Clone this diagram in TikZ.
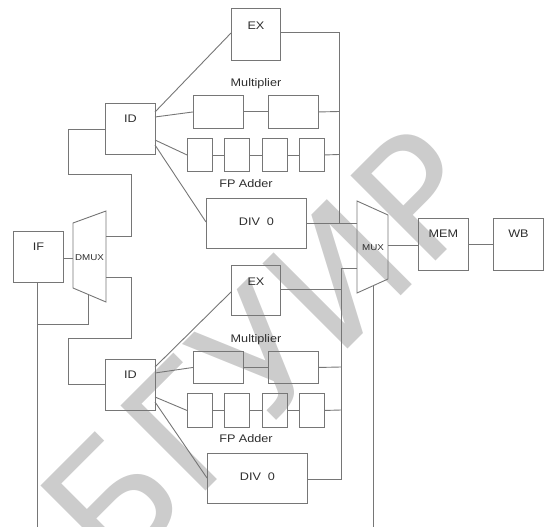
\documentclass[tikz,border=0pt]{standalone}
\usepackage{fontspec}
\setmainfont{Liberation Sans}
\newfontfamily\wmfont{DejaVu Sans}
\usetikzlibrary{calc}
\definecolor{linec}{RGB}{118,118,118}
\definecolor{txtc}{RGB}{45,45,45}
\definecolor{wmc}{RGB}{204,204,204}
\tikzset{
  blk/.style={draw=linec, line width=0.9pt, inner sep=0pt},
  lbl/.style={text=txtc, inner sep=0pt, font=\fontsize{11}{13}\selectfont},
  smlbl/.style={text=txtc, inner sep=0pt, font=\fontsize{8.5}{10}\selectfont},
  wire/.style={draw=linec, line width=0.9pt},
}
\newcommand{\wdtx}[1]{\scalebox{1.15}[1]{#1}}
\newcommand{\mybx}[5]{\node[blk, minimum width=#4-#2, minimum height=#5-#3, anchor=north west] (#1) at (#2,#3) {};}
\begin{document}
\begin{tikzpicture}[x=1pt,y=-1pt]
\useasboundingbox (0,0) rectangle (544,527);
% watermark
\node[text=wmc, font=\wmfont\fontsize{165}{165}\selectfont, rotate=45, inner sep=0pt] (wm) at (262,350) {БГУИР};

% top half
\mybx{id1}{105}{103}{155}{154}
\mybx{ex1}{231}{8}{280}{60}
\mybx{m1a}{193}{95}{243}{128}
\mybx{m1b}{268}{95}{318}{128}
\mybx{f1a}{187}{138}{212}{171}
\mybx{f1b}{224}{138}{249}{171}
\mybx{f1c}{262}{138}{287}{171}
\mybx{f1d}{299}{138}{324}{171}
\mybx{div1}{206}{198}{306}{248}
% bottom half
\mybx{id2}{105}{359}{155}{410}
\mybx{ex2}{231}{265}{280}{315}
\mybx{m2a}{193}{351}{243}{383}
\mybx{m2b}{268}{351}{318}{383}
\mybx{f2a}{187}{393}{212}{427}
\mybx{f2b}{224}{393}{249}{427}
\mybx{f2c}{262}{393}{287}{427}
\mybx{f2d}{299}{393}{324}{427}
\mybx{div2}{207}{453}{307}{503}
% others
\mybx{if}{13}{231}{63}{282}
\mybx{mem}{418}{218}{468}{270}
\mybx{wb}{493}{218}{543}{270}

% labels
\node[lbl] (tex1) at ($(ex1.north)+(0,18)$) {\wdtx{EX}};
\node[lbl] (tid1) at ($(id1.north)+(0,16)$) {\wdtx{ID}};
\node[lbl] (tex2) at ($(ex2.north)+(0,16.5)$) {\wdtx{EX}};
\node[lbl] (tid2) at ($(id2.north)+(0,15.5)$) {\wdtx{ID}};
\node[lbl] (tif) at ($(if.north)+(0,16)$) {\wdtx{IF}};
\node[lbl] (tmem) at ($(mem.north)+(0,16)$) {\wdtx{MEM}};
\node[lbl] (twb) at ($(wb.north)+(0,16)$) {\wdtx{WB}};
\node[lbl] (tdiv1) at ($(div1.center)+(0,-1.5)$) {\wdtx{DIV\ \ 0}};
\node[lbl] (tdiv2) at ($(div2.center)+(0,-1.5)$) {\wdtx{DIV\ \ 0}};
\node[lbl] (tmul1) at (256,84) {\wdtx{Multiplier}};
\node[lbl] (tfp1) at (246,184) {\wdtx{FP Adder}};
\node[lbl] (tmul2) at (256,340) {\wdtx{Multiplier}};
\node[lbl] (tfp2) at (246,439) {\wdtx{FP Adder}};

% MUX and DMUX trapezoids
\draw[wire] (357,201) coordinate (muxtl) -- (388,215) coordinate (muxtr) -- (388,279) coordinate (muxbr) -- (357,293) coordinate (muxbl) -- cycle;
\node[smlbl] (tmux) at (373,248) {\wdtx{MUX}};
\draw[wire] (73,223) coordinate (dmtl) -- (106,211) coordinate (dmtr) -- (106,302) coordinate (dmbr) -- (73,288) coordinate (dmbl) -- cycle;
\node[smlbl] (tdmux) at (89.5,258) {\wdtx{DMUX}};

% coordinates on trapezoids
\coordinate (dmin) at (73,258);
\coordinate (dmo1) at (106,236);
\coordinate (dmo2) at (106,277);
\coordinate (dmbot) at (88,294.5);
\coordinate (muxin1) at (357,223);
\coordinate (muxin2) at (357,268);
\coordinate (muxout) at (388,245);
\coordinate (muxbot) at (373,286);
\coordinate (bot1) at (37,527);
\coordinate (bot2) at (373,527);

% IF / DMUX wiring
\draw[wire] (if.east |- dmin) -- (dmin);
\draw[wire] (if.south -| bot1) -- (bot1);
\draw[wire] (dmbot) -- (88,324) -- (37,324);
\draw[wire] (dmo1) -- (131,236) -- (131,174) -- (68,174) -- (68,129) -- (id1.west |- 0,129);
\draw[wire] (dmo2) -- (131,277) -- (131,338) -- (68,338) -- (68,384) -- (id2.west |- 0,384);

% ID1 fan-out
\draw[wire] (155,112) -- (231,33);
\draw[wire] (155,117) -- (m1a.west);
\draw[wire] (155,140) -- (f1a.west);
\draw[wire] (155,145) -- (206,222);
% ID2 fan-out
\draw[wire] (155,367) -- (231,292);
\draw[wire] (155,373) -- (m2a.west);
\draw[wire] (155,397) -- (f2a.west);
\draw[wire] (155,402) -- (207,478);

% pipelines
\draw[wire] (m1a.east) -- (m1b.west);
\draw[wire] (f1a.east) -- (f1b.west);
\draw[wire] (f1b.east) -- (f1c.west);
\draw[wire] (f1c.east) -- (f1d.west);
\draw[wire] (m2a.east) -- (m2b.west);
\draw[wire] (f2a.east) -- (f2b.west);
\draw[wire] (f2b.east) -- (f2c.west);
\draw[wire] (f2c.east) -- (f2d.west);

% bus top
\draw[wire] (280,32) -- (339,32) -- (339,223);
\draw[wire] (m1b.east) -- (339,111.5);
\draw[wire] (f1d.east) -- (339,154.5);
\draw[wire] (306,223) -- (muxin1);
% bus bottom
\draw[wire] (280,289) -- (341,289);
\draw[wire] (muxin2) -- (341,268) -- (341,479) -- (307,479);
\draw[wire] (m2b.east) -- (341,367);
\draw[wire] (f2d.east) -- (341,410);

% output side
\draw[wire] (muxout) -- (mem.west |- muxout);
\draw[wire] (mem.east |- 0,244) -- (wb.west |- 0,244);
\draw[wire] (muxbot) -- (bot2);
\end{tikzpicture}
\end{document}
